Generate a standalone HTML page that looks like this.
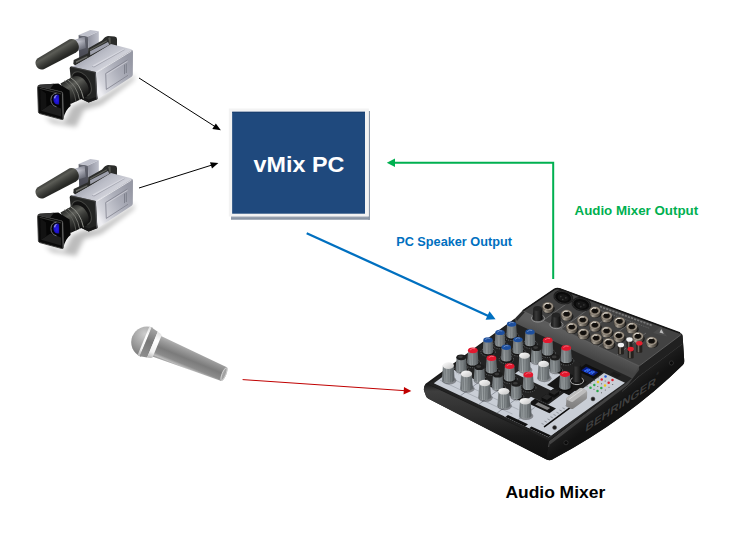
<!DOCTYPE html>
<html><head><meta charset="utf-8"><title>vMix Audio Mixer Diagram</title>
<style>
html,body{margin:0;padding:0;background:#fff;overflow:hidden}
svg{display:block}
text{font-family:"Liberation Sans",sans-serif;font-weight:bold}
</style></head><body>
<svg width="750" height="543" viewBox="0 0 750 543">
<defs>
<filter id="bs" x="-10%" y="-10%" width="130%" height="130%"><feGaussianBlur stdDeviation="1.2"/></filter>
<filter id="b3" x="-20%" y="-20%" width="140%" height="140%"><feGaussianBlur stdDeviation="2.5"/></filter>
<linearGradient id="gFoam" gradientUnits="userSpaceOnUse" x1="53" y1="48.5" x2="59.5" y2="59.3">
<stop offset="0" stop-color="#3c3d39"/><stop offset=".3" stop-color="#5b5c56"/><stop offset=".7" stop-color="#3a3b37"/><stop offset="1" stop-color="#272825"/></linearGradient>
<linearGradient id="gTube" gradientUnits="userSpaceOnUse" x1="79" y1="38" x2="81" y2="50">
<stop offset="0" stop-color="#a8aab5"/><stop offset=".3" stop-color="#d2d3dc"/><stop offset=".7" stop-color="#9698a3"/><stop offset="1" stop-color="#6c6e79"/></linearGradient>
<linearGradient id="gTubeSh" gradientUnits="userSpaceOnUse" x1="76" y1="44" x2="86" y2="42"><stop offset="0" stop-color="#50525e" stop-opacity="0"/><stop offset="1" stop-color="#50525e" stop-opacity=".45"/></linearGradient>
<linearGradient id="gHF" x1="0" y1="0" x2="0" y2="1"><stop offset="0" stop-color="#666873"/><stop offset="1" stop-color="#45464f"/></linearGradient>
<linearGradient id="gHS" x1="0" y1="0" x2="1" y2="0"><stop offset="0" stop-color="#90929e"/><stop offset="1" stop-color="#bdbfca"/></linearGradient>
<linearGradient id="gTop" gradientUnits="userSpaceOnUse" x1="90" y1="50" x2="104" y2="70">
<stop offset="0" stop-color="#a1a3af"/><stop offset=".45" stop-color="#bcbec8"/><stop offset="1" stop-color="#d3d4dc"/></linearGradient>
<linearGradient id="gSide" gradientUnits="userSpaceOnUse" x1="96" y1="85" x2="132" y2="63">
<stop offset="0" stop-color="#eeeef2"/><stop offset=".15" stop-color="#d4d5dc"/><stop offset=".6" stop-color="#adafba"/><stop offset="1" stop-color="#9799a5"/></linearGradient>
<linearGradient id="gBarrel" gradientUnits="userSpaceOnUse" x1="67" y1="80" x2="79" y2="100">
<stop offset="0" stop-color="#2a2b29"/><stop offset=".3" stop-color="#5b5c57"/><stop offset=".55" stop-color="#3a3b38"/><stop offset="1" stop-color="#101010"/></linearGradient>
<linearGradient id="gHoodTop" gradientUnits="userSpaceOnUse" x1="38" y1="86" x2="64" y2="86">
<stop offset="0" stop-color="#3e3e3d"/><stop offset="1" stop-color="#0a0a0a"/></linearGradient>
<radialGradient id="gGlass" cx=".6" cy=".55" r=".7"><stop offset="0" stop-color="#2a1cf0"/><stop offset=".6" stop-color="#1a10c0"/><stop offset="1" stop-color="#0a0860"/></radialGradient>

<g id="cam">
 <!-- ground shadow -->
 <g filter="url(#b3)" opacity=".26">
  <path d="M44,116 L64,122 L72,106 L84,101 L98,100 L132,77 L135,74 L134,80 L101,105 L84,110 L76,127 L52,123 Z" fill="#000"/>
 </g>
 <!-- mic holder box -->
 <path d="M78.6,34.9 L87.9,36.5 L88.6,54 L79.2,59 Z" fill="url(#gHF)"/>
 <path d="M87.9,36.5 L98.8,31.3 L98.8,43 L88.4,50 Z" fill="url(#gHS)"/>
 <path d="M78.6,34.9 L90.3,29.9 L98.8,31.3 L87.9,36.5 Z" fill="#bfc1cc"/>
 <!-- mic tube -->
 <path d="M72,40.5 L84.6,36.8 L85.6,48 L77,51 Z" fill="url(#gTube)"/>
 <path d="M72,40.5 L84.6,36.8 L85.6,48 L77,51 Z" fill="url(#gTubeSh)"/>
 <!-- foam -->
 <path d="M37.4,58.6 L69.6,39.3 A7.6,7.6 0 0 1 76,52.6 L43.8,69.2 A6.4,6.4 0 0 1 37.4,58.6 Z" fill="url(#gFoam)"/>
 <!-- handle (dark rail) -->
 <path d="M73.7,60 L88,53.3 L88.3,48.3 L102,40.6 Q105,36.4 108,36 L114.5,36.4 Q117,36.6 117,39 L117,46.5 L109.3,46 L90.3,57 L75.3,65.6 L73.3,64 Z" fill="#2b2c2a"/>
 <path d="M90,51.3 L108,42 L109.3,44.7 L90.3,55.3 Z" fill="#9d9fab"/>
 <path d="M89.6,49.6 L106.6,40.2 L107,41.2 L89.9,50.7 Z" fill="#5e5f59"/>
 <path d="M75.7,61.6 L87.2,56 L87.5,57.3 L76.2,63 Z" fill="#6a6b66"/>
 <path d="M108.2,38 Q110,36.6 110.6,38 L110.8,43.4 L109.6,44 Z" fill="#54554f"/>
 <!-- body top -->
 <path d="M70.8,66.9 L95.9,71.9 L131,50.4 Q132.6,49.6 131.4,49.2 L111,44 L89.3,57.3 L75.3,65.3 Z" fill="url(#gTop)"/>
 <path d="M92.1,65.8 L123.2,48.9 L124.4,49.5 L93.8,66.8 Z" fill="#d6d7df"/>
 <path d="M93.8,66.8 L124.4,49.5 L124.6,50.1 L94,67.6 L92.1,66.6 L92.1,65.8 Z" fill="#8e909b" opacity=".7"/>
 <!-- body side -->
 <path d="M95.9,71.9 L131,50.4 Q133,49.4 133,52 L132.8,74.6 Q132.8,76 131.6,76.8 L97.4,99.2 Z" fill="url(#gSide)"/>
 <path d="M96.6,72.4 L131.4,51.1" stroke="#f4f4f7" stroke-width=".9" opacity=".8"/>
 <path d="M127.5,59.9 L105.7,73.5 L106.3,89.4 L128,75.3" fill="none" stroke="#80828e" stroke-width=".8"/>
 <path d="M106.6,74.4 L127.6,61.2" fill="none" stroke="#dcdce3" stroke-width=".6"/>
 <path d="M124.5,64.6 L124.5,74.1 M126.3,63.6 L126.3,73" stroke="#6f717d" stroke-width=".7"/>
 <!-- body front (dark) -->
 <path d="M71.4,66.6 L95.9,71.9 L97.4,99.2 L88.7,102.6 L80.6,98.8 L73,92 Q70.5,80 69.7,68.4 Q69.7,66.3 71.4,66.6 Z" fill="#232423"/>
 <path d="M80.6,98.4 L88.7,102.4 L97.4,99 L97.3,96.4 L88.7,99.6 L81,95.8 Z" fill="#161616"/>
 <path d="M95.3,72.4 L96.8,98.8" stroke="#55565a" stroke-width="1"/>
 <path d="M71,67 L95.5,72.4" stroke="#4a4b4a" stroke-width=".7"/>
 <!-- lens mount ring -->
 <g transform="translate(81.5,83.8) rotate(58)">
  <ellipse rx="13.8" ry="8.8" fill="#454643"/>
  <ellipse rx="12.6" ry="7.8" fill="#121212"/>
 </g>
 <!-- barrel -->
 <path d="M72.7,76.7 L60.5,83.4 L70.5,104 L87,96.6 Q91.5,88 84.5,80 Q79,74.5 72.7,76.7 Z" fill="url(#gBarrel)"/>
 <g fill="none" stroke-linecap="round">
  <path d="M70.5,77.6 Q80.5,83.5 83.4,98" stroke="#90918b" stroke-width="1"/>
  <path d="M67.3,79.5 Q77,85.8 79.6,99.8" stroke="#7d7e78" stroke-width=".9"/>
  <path d="M64.6,81 Q74,87.5 76,101.4" stroke="#62635e" stroke-width=".8"/>
 </g>
 <!-- hood top + side -->
 <path d="M37.6,86.1 L39.6,84.7 L58.3,83.5 L69.6,90.5 L70.6,106 Q65,110 63.1,119.7 L62.3,92.1 Z" fill="#090909"/>
 <path d="M37.6,86.1 L39.6,84.7 L54,83.8 L50,89 Z" fill="#343434"/>
 <!-- hood frame -->
 <path d="M37.6,87.4 Q37.5,85.9 39,86.4 L61.2,91.8 Q62.3,92.1 62.4,93.3 L63.1,118.4 Q63.2,120 61.8,119.5 L39.8,113.6 Q38.5,113.2 38.4,111.8 Z" fill="#0b0b0b" stroke="#3c3c3b" stroke-width=".9"/>
 <path d="M40.3,89.3 L60.5,94.6 L61,116.6 L40.8,110.8 Z" fill="#060606"/>
 <path d="M40.8,110.8 L50.5,104.6 L61,108.6 L61,116.6 Z" fill="#1f1f1f"/>
 <path d="M40.3,89.3 L46,93.4 L46.5,107 L40.8,110.8 Z" fill="#121212"/>
 <path d="M62.7,93.4 L63.3,119" stroke="#7e7f80" stroke-width=".7"/>
 <path d="M39.6,88.3 L61,93.9" stroke="#4c4c4b" stroke-width=".7"/>
 <!-- lens glass -->
 <path d="M56.5,93.2 Q51.2,93.6 50.9,99.6 Q51,105.4 56.5,106.8" fill="none" stroke="#77787b" stroke-width=".9"/>
 <path d="M59.2,94.8 L59.2,104.4 Q54.5,105.4 53.2,100 Q53,95 56.2,94.4 Z" fill="url(#gGlass)"/>
 <path d="M53.8,97.4 Q54.6,94.8 57.6,94.8 Q55.6,96 55,99 Z" fill="#a9a9f0" opacity=".8"/>
</g>

</defs>
<rect width="750" height="543" fill="#fff"/>
<!-- vMix box -->
<linearGradient id="gSh" x1="0" y1="0" x2="0" y2="1"><stop offset="0" stop-color="#a4adba"/><stop offset="1" stop-color="#7f8b9c"/></linearGradient>
<rect x="231" y="216" width="139" height="3.7" fill="url(#gSh)"/>
<rect x="368" y="111" width="2" height="108.7" fill="#8c97a7"/>
<rect x="228.8" y="108.5" width="140.1" height="108" fill="#f3f3f3"/>
<rect x="232.15" y="111.8" width="132.85" height="101.9" fill="#1f497d"/>
<rect x="232.15" y="111.8" width="132.85" height="1" fill="#1a3f6e"/>
<text x="253.6" y="172" font-size="22.3" fill="#fff" textLength="90.7" lengthAdjust="spacingAndGlyphs">vMix PC</text>
<!-- arrows -->
<g stroke="#000" stroke-width="1" fill="#000">
<line x1="139" y1="78" x2="216" y2="127.2"/>
<polygon points="220.9,130.3 212.3,129 215.8,123.5" stroke="none"/>
<line x1="139" y1="188" x2="213" y2="164.7"/>
<polygon points="218.4,163 212,168.5 210,162.2" stroke="none"/>
</g>
<g stroke="#00b050" stroke-width="2" fill="none">
<polyline points="392,162.7 553.2,162.7 553.2,279"/>
<polygon points="386.8,162.7 395,158.5 395,166.9" fill="#00b050" stroke="none"/>
</g>
<g stroke="#0070c0" stroke-width="2.3">
<line x1="306.7" y1="233.2" x2="490" y2="316.7"/>
<polygon points="495.6,319.2 485.6,319.8 489.5,311.2" fill="#0070c0" stroke="none"/>
</g>
<g stroke="#c00000" stroke-width="1">
<line x1="242.6" y1="379.6" x2="405" y2="390.7"/>
<polygon points="411.3,391.1 403.5,394.5 404,387" fill="#c00000" stroke="none"/>
</g>
<text x="396.2" y="246" font-size="13.1" fill="#0070c0" textLength="115.8" lengthAdjust="spacingAndGlyphs">PC Speaker Output</text>
<text x="574.5" y="214.5" font-size="13.1" fill="#00b050" textLength="123.7" lengthAdjust="spacingAndGlyphs">Audio Mixer Output</text>
<text x="505.4" y="497.7" font-size="16.3" fill="#000" textLength="99.8" lengthAdjust="spacingAndGlyphs">Audio Mixer</text>
<use href="#cam"/>
<use href="#cam" transform="translate(0,129)"/>
<g transform="translate(146.9,342.3) rotate(22.4)">
 <linearGradient id="gMicH" x1="0" y1="0" x2="0" y2="1"><stop offset="0" stop-color="#b4b4b4"/><stop offset=".18" stop-color="#9c9c9c"/><stop offset=".5" stop-color="#7b7b7b"/><stop offset=".78" stop-color="#8c8c8c"/><stop offset=".9" stop-color="#bcbcbc"/><stop offset="1" stop-color="#8a8a8a"/></linearGradient>
 <radialGradient id="gBall" gradientUnits="userSpaceOnUse" cx="-5" cy="-7" r="20"><stop offset="0" stop-color="#cdcdcd"/><stop offset=".6" stop-color="#a2a2a2"/><stop offset="1" stop-color="#848484"/></radialGradient>
 <linearGradient id="gRing" x1="0" y1="0" x2="0" y2="1"><stop offset="0" stop-color="#e0e0e0"/><stop offset=".3" stop-color="#ffffff"/><stop offset=".75" stop-color="#f2f2f2"/><stop offset="1" stop-color="#b4b4b4"/></linearGradient>
 <linearGradient id="gBand" x1="0" y1="0" x2="0" y2="1"><stop offset="0" stop-color="#a6a6a6"/><stop offset=".45" stop-color="#787878"/><stop offset="1" stop-color="#8e8e8e"/></linearGradient>
 <path d="M9,-11.2 L83.4,-7.5 A2.2,7.5 0 0 1 83.4,7.5 L9,11.2 Z" fill="url(#gMicH)"/>
 <ellipse cx="83.4" cy="0" rx="1.9" ry="6.8" fill="#a2a2a2" stroke="#dcdcdc" stroke-width=".8"/>
 <path d="M0,-15.7 A15.7,15.7 0 0 0 0,15.7 Z" fill="url(#gBall)"/>
 <path d="M-3.7,-15.25 L-1.3,-15.6 L-1.3,15.6 L-3.7,15.25 Z" fill="url(#gRing)"/>
 <path d="M-1.3,-15.6 L6,-13.9 L6,13.9 L-1.3,15.6 Z" fill="url(#gBand)"/>
 <path d="M6,-13.9 Q8.5,-13.6 11,-12.2 L11,12.2 Q8.5,13.6 6,13.9 Z" fill="url(#gRing)"/>
</g>
<g id="mixer">
<defs>
<linearGradient id="mFront" x1="0" y1="0" x2="0" y2="1"><stop offset="0" stop-color="#161616"/><stop offset=".1" stop-color="#3e3e3e"/><stop offset=".42" stop-color="#2e2e2e"/><stop offset=".7" stop-color="#181818"/><stop offset="1" stop-color="#0f0f0f"/></linearGradient>
<linearGradient id="mRight" gradientUnits="userSpaceOnUse" x1="600" y1="395" x2="612" y2="411"><stop offset="0" stop-color="#3a3a3a"/><stop offset=".25" stop-color="#202020"/><stop offset="1" stop-color="#121212"/></linearGradient>
<linearGradient id="mSlope" gradientUnits="userSpaceOnUse" x1="570" y1="335" x2="565" y2="349"><stop offset="0" stop-color="#5c5c5c"/><stop offset="1" stop-color="#444444"/></linearGradient>
<linearGradient id="mKnob" x1="0" y1="0" x2="1" y2="0"><stop offset="0" stop-color="#73797c"/><stop offset=".3" stop-color="#a2a8aa"/><stop offset=".65" stop-color="#888e90"/><stop offset="1" stop-color="#5e6366"/></linearGradient>
<linearGradient id="mKnobK" x1="0" y1="0" x2="1" y2="0"><stop offset="0" stop-color="#151515"/><stop offset=".35" stop-color="#3a3a3a"/><stop offset="1" stop-color="#0a0a0a"/></linearGradient>
<linearGradient id="mCapW" x1="0" y1="0" x2="1" y2="1"><stop offset="0" stop-color="#ffffff"/><stop offset="1" stop-color="#c4c4c4"/></linearGradient>
<radialGradient id="mJack" cx=".5" cy=".52" r=".5"><stop offset="0" stop-color="#0c0c0c"/><stop offset=".5" stop-color="#17130f"/><stop offset=".6" stop-color="#5e564c"/><stop offset=".8" stop-color="#a49b8e"/><stop offset="1" stop-color="#6a6258"/></radialGradient>
<linearGradient id="mJackS" x1="0" y1="0" x2="1" y2="0"><stop offset="0" stop-color="#4e4840"/><stop offset=".3" stop-color="#a8a094"/><stop offset=".6" stop-color="#6c655b"/><stop offset="1" stop-color="#38332d"/></linearGradient>
<linearGradient id="mFader" x1="0" y1="0" x2="0" y2="1"><stop offset="0" stop-color="#b0b0b0"/><stop offset=".45" stop-color="#929292"/><stop offset="1" stop-color="#7c7c7c"/></linearGradient>
</defs>
<path d="M426,383.5 Q423.3,386.5 424,390.5 L426,396 Q426.5,397.8 428.5,398.8 L546.5,459.5 Q550.5,461.5 554,458.6 Q628,419 683,364.8 Q684.6,363 684.2,360 L682.6,336 Q682.5,333.6 680,332.7 L560,288.4 Q557,287.3 554.3,289 L523,310.3 L515.5,318 Z" fill="#1a1a1a"/>
<path d="M426,383.5 Q423.3,386.5 424,390.5 L426,396 Q426.5,397.8 428.5,398.8 L546.5,459.5 L549.5,441.6 Z" fill="url(#mFront)"/>
<path d="M549.5,441.6 L626.5,382.7 L638.9,366 L681.8,334 Q682.5,334.5 682.6,336 L684.2,360 Q684.6,363 683,364.8 Q628,419 554,458.6 Q550.5,461.5 546.5,459.5 Z" fill="url(#mRight)"/>
<path d="M548.6,447 L549.5,441.6 L626.5,382.7 L638.9,366" fill="none" stroke="#4a4a4a" stroke-width="1"/>
<path d="M549.5,441.6 L626.5,382.7 L638.9,366 L640,368.5 L628,384.8 L550,444.4 Z" fill="#474747" opacity=".9"/>
<path d="M622,391.5 Q634,381 639.5,375.8 L682,344" fill="none" stroke="#3c3c3c" stroke-width="1"/>
<path d="M638.9,366 L681.8,334 L682.6,343.5 L639.6,375.6 Z" fill="#202020"/>
<circle cx="566.0" cy="442.7" r="2.1" fill="#0a0a0a" stroke="#3a3a3a" stroke-width=".7"/>
<circle cx="671.4" cy="363.0" r="2.1" fill="#0a0a0a" stroke="#3a3a3a" stroke-width=".7"/>
<circle cx="433.5" cy="391" r="0" fill="none"/>
<text transform="matrix(0.829,-0.560,-0.135,0.99,584.9,432.3)" font-size="11.7" fill="#3f3f3f" stroke="#0d0d0d" stroke-width=".45" paint-order="stroke" textLength="85" lengthAdjust="spacingAndGlyphs">BEHRINGER</text>
<text transform="matrix(0.829,-0.560,-0.135,0.99,656.2,375.6)" font-size="4" fill="#3a3a3a">®</text>
<polygon points="428.3,384.1 549.1,440.4 626.0,383.2 632.0,378.0 515.5,323.0 515.5,318.5" fill="#222222"/>
<polygon points="433.8,383.3 548.7,437.3 568.0,423.0 452.7,369.3" fill="#c9ced6"/>
<polygon points="515.0,373.6 551.0,390.4 568.0,377.8 532.0,361.0" fill="#c9ced6"/>
<polygon points="504.2,416.6 548.7,437.3 625.0,382.7 604.0,372.9 578.0,392.1 570.0,388.4 548.0,404.7 531.0,396.8" fill="#c9ced6"/>
<line x1="460.1" y1="396.0" x2="479.4" y2="381.7" stroke="#6a6f78" stroke-width=".6"/>
<line x1="478.5" y1="404.6" x2="497.8" y2="390.3" stroke="#6a6f78" stroke-width=".6"/>
<line x1="496.9" y1="413.2" x2="516.2" y2="398.9" stroke="#6a6f78" stroke-width=".6"/>
<line x1="515.3" y1="421.8" x2="534.6" y2="407.5" stroke="#6a6f78" stroke-width=".6"/>
<line x1="440.0" y1="380.3" x2="512.5" y2="414.1" stroke="#8a9099" stroke-width=".5"/>
<line x1="446.0" y1="375.8" x2="518.5" y2="409.6" stroke="#8a9099" stroke-width=".5"/>
<polygon points="505.2,417.0 525.2,426.4 528.0,424.3 508.0,415.0" fill="#111"/>
<polygon points="529.2,428.2 548.7,437.3 551.0,435.6 531.5,426.5" fill="#111"/>
<polygon points="515.5,318.2 522.8,310.8 639.2,366.0 632.0,378.2 515.5,323.2" fill="url(#mSlope)"/>
<polygon points="515.5,318.2 522.8,310.8 525.0,312.0 517.0,321.0" fill="#2a2a2a"/>
<path d="M522.8,310.8 L554.3,289.4 Q557,287.8 560,288.9 L680,333 Q682,333.8 680.8,334.9 L639.2,366 Z" fill="#424242"/>
<path d="M522.8,310.8 L554.3,289.4 Q557,287.8 560,288.9 L680,333" fill="none" stroke="#151515" stroke-width="1.6"/>
<path d="M523.5,311.2 L639.2,366 L680.8,334.9" fill="none" stroke="#6a6a6a" stroke-width=".7"/>
<line x1="543.0" y1="320.5" x2="572.0" y2="300.0" stroke="#8a8a8a" stroke-width=".5"/>
<line x1="561.0" y1="329.0" x2="590.0" y2="308.0" stroke="#8a8a8a" stroke-width=".5"/>
<line x1="580.0" y1="338.0" x2="608.0" y2="317.0" stroke="#8a8a8a" stroke-width=".5"/>
<line x1="598.0" y1="346.5" x2="627.0" y2="325.5" stroke="#8a8a8a" stroke-width=".5"/>
<line x1="617.0" y1="355.0" x2="646.0" y2="333.0" stroke="#8a8a8a" stroke-width=".5"/>
<path d="M600,306.5 L652,325.5" stroke="#8c8c8c" stroke-width="1.6" stroke-dasharray="2.2,1.1" opacity=".75"/>
<path d="M598,309.5 L650,328.5" stroke="#777" stroke-width=".8" stroke-dasharray="1.4,1" opacity=".7"/>
<path d="M653,333 L661,326.5 L667,336.5 Z" fill="#4c4c4c"/><path d="M659.5,332.5 L661.3,329 L663.8,333.8 Z" fill="#bdbdbd"/>
<g transform="rotate(14 563.3 297.2)">
<ellipse cx="563.3" cy="297.2" rx="10" ry="7" fill="#1d1d1d"/>
<ellipse cx="563.3" cy="297.4" rx="8.6" ry="5.8" fill="#0b0b0b" stroke="#2c2c2c" stroke-width=".8"/>
<ellipse cx="563.3" cy="297.8" rx="5.6" ry="3.6" fill="#161616"/>
<circle cx="560.7" cy="297.2" r=".8" fill="#3a3a3a"/>
<circle cx="565.9" cy="297.2" r=".8" fill="#3a3a3a"/>
<circle cx="563.3" cy="299.6" r=".8" fill="#3a3a3a"/>
</g>
<g transform="rotate(14 581.4 304.3)">
<ellipse cx="581.4" cy="304.3" rx="10" ry="7" fill="#1d1d1d"/>
<ellipse cx="581.4" cy="304.5" rx="8.6" ry="5.8" fill="#0b0b0b" stroke="#2c2c2c" stroke-width=".8"/>
<ellipse cx="581.4" cy="304.9" rx="5.6" ry="3.6" fill="#161616"/>
<circle cx="578.8" cy="304.3" r=".8" fill="#3a3a3a"/>
<circle cx="584.0" cy="304.3" r=".8" fill="#3a3a3a"/>
<circle cx="581.4" cy="306.7" r=".8" fill="#3a3a3a"/>
</g>
<ellipse cx="548.5" cy="308.8" rx="6.3" ry="4.6" fill="#121212" opacity=".8"/>
<path d="M542.3,306.2 l0,2.6 a5.6,4.2 0 0 0 11.2,0 l0,-2.6 Z" fill="url(#mJackS)"/>
<ellipse cx="547.9" cy="306.2" rx="5.6" ry="4.2" fill="url(#mJack)"/>
<path d="M544.0,305.3 q1.8,-2.8 5,-1.6" fill="none" stroke="#f2eee6" stroke-width="1" opacity=".85"/>
<ellipse cx="595.5" cy="313.3" rx="6.3" ry="4.6" fill="#121212" opacity=".8"/>
<path d="M589.3,310.7 l0,2.6 a5.6,4.2 0 0 0 11.2,0 l0,-2.6 Z" fill="url(#mJackS)"/>
<ellipse cx="594.9" cy="310.7" rx="5.6" ry="4.2" fill="url(#mJack)"/>
<path d="M591.0,309.8 q1.8,-2.8 5,-1.6" fill="none" stroke="#f2eee6" stroke-width="1" opacity=".85"/>
<ellipse cx="567.2" cy="316.5" rx="6.3" ry="4.6" fill="#121212" opacity=".8"/>
<path d="M561.0,313.9 l0,2.6 a5.6,4.2 0 0 0 11.2,0 l0,-2.6 Z" fill="url(#mJackS)"/>
<ellipse cx="566.6" cy="313.9" rx="5.6" ry="4.2" fill="url(#mJack)"/>
<path d="M562.7,313.0 q1.8,-2.8 5,-1.6" fill="none" stroke="#f2eee6" stroke-width="1" opacity=".85"/>
<ellipse cx="607.2" cy="318.3" rx="6.3" ry="4.6" fill="#121212" opacity=".8"/>
<path d="M601.0,315.7 l0,2.6 a5.6,4.2 0 0 0 11.2,0 l0,-2.6 Z" fill="url(#mJackS)"/>
<ellipse cx="606.6" cy="315.7" rx="5.6" ry="4.2" fill="url(#mJack)"/>
<path d="M602.7,314.8 q1.8,-2.8 5,-1.6" fill="none" stroke="#f2eee6" stroke-width="1" opacity=".85"/>
<ellipse cx="583.3" cy="322.3" rx="6.3" ry="4.6" fill="#121212" opacity=".8"/>
<path d="M577.1,319.7 l0,2.6 a5.6,4.2 0 0 0 11.2,0 l0,-2.6 Z" fill="url(#mJackS)"/>
<ellipse cx="582.7" cy="319.7" rx="5.6" ry="4.2" fill="url(#mJack)"/>
<path d="M578.8,318.8 q1.8,-2.8 5,-1.6" fill="none" stroke="#f2eee6" stroke-width="1" opacity=".85"/>
<ellipse cx="620.1" cy="323.7" rx="6.3" ry="4.6" fill="#121212" opacity=".8"/>
<path d="M613.9,321.1 l0,2.6 a5.6,4.2 0 0 0 11.2,0 l0,-2.6 Z" fill="url(#mJackS)"/>
<ellipse cx="619.5" cy="321.1" rx="5.6" ry="4.2" fill="url(#mJack)"/>
<path d="M615.6,320.2 q1.8,-2.8 5,-1.6" fill="none" stroke="#f2eee6" stroke-width="1" opacity=".85"/>
<ellipse cx="595.5" cy="327.5" rx="6.3" ry="4.6" fill="#121212" opacity=".8"/>
<path d="M589.3,324.9 l0,2.6 a5.6,4.2 0 0 0 11.2,0 l0,-2.6 Z" fill="url(#mJackS)"/>
<ellipse cx="594.9" cy="324.9" rx="5.6" ry="4.2" fill="url(#mJack)"/>
<path d="M591.0,324.0 q1.8,-2.8 5,-1.6" fill="none" stroke="#f2eee6" stroke-width="1" opacity=".85"/>
<ellipse cx="632.4" cy="329.2" rx="6.3" ry="4.6" fill="#121212" opacity=".8"/>
<path d="M626.2,326.6 l0,2.6 a5.6,4.2 0 0 0 11.2,0 l0,-2.6 Z" fill="url(#mJackS)"/>
<ellipse cx="631.8" cy="326.6" rx="5.6" ry="4.2" fill="url(#mJack)"/>
<path d="M627.9,325.7 q1.8,-2.8 5,-1.6" fill="none" stroke="#f2eee6" stroke-width="1" opacity=".85"/>
<ellipse cx="572.3" cy="329.4" rx="6.3" ry="4.6" fill="#121212" opacity=".8"/>
<path d="M566.1,326.8 l0,2.6 a5.6,4.2 0 0 0 11.2,0 l0,-2.6 Z" fill="url(#mJackS)"/>
<ellipse cx="571.7" cy="326.8" rx="5.6" ry="4.2" fill="url(#mJack)"/>
<path d="M567.8,325.9 q1.8,-2.8 5,-1.6" fill="none" stroke="#f2eee6" stroke-width="1" opacity=".85"/>
<ellipse cx="607.2" cy="333.3" rx="6.3" ry="4.6" fill="#121212" opacity=".8"/>
<path d="M601.0,330.7 l0,2.6 a5.6,4.2 0 0 0 11.2,0 l0,-2.6 Z" fill="url(#mJackS)"/>
<ellipse cx="606.6" cy="330.7" rx="5.6" ry="4.2" fill="url(#mJack)"/>
<path d="M602.7,329.8 q1.8,-2.8 5,-1.6" fill="none" stroke="#f2eee6" stroke-width="1" opacity=".85"/>
<ellipse cx="583.9" cy="335.2" rx="6.3" ry="4.6" fill="#121212" opacity=".8"/>
<path d="M577.7,332.6 l0,2.6 a5.6,4.2 0 0 0 11.2,0 l0,-2.6 Z" fill="url(#mJackS)"/>
<ellipse cx="583.3" cy="332.6" rx="5.6" ry="4.2" fill="url(#mJack)"/>
<path d="M579.4,331.7 q1.8,-2.8 5,-1.6" fill="none" stroke="#f2eee6" stroke-width="1" opacity=".85"/>
<ellipse cx="619.5" cy="338.0" rx="6.3" ry="4.6" fill="#121212" opacity=".8"/>
<path d="M613.3,335.4 l0,2.6 a5.6,4.2 0 0 0 11.2,0 l0,-2.6 Z" fill="url(#mJackS)"/>
<ellipse cx="618.9" cy="335.4" rx="5.6" ry="4.2" fill="url(#mJack)"/>
<path d="M615.0,334.5 q1.8,-2.8 5,-1.6" fill="none" stroke="#f2eee6" stroke-width="1" opacity=".85"/>
<ellipse cx="638.5" cy="338.7" rx="6.3" ry="4.6" fill="#121212" opacity=".8"/>
<path d="M632.3,336.1 l0,2.6 a5.6,4.2 0 0 0 11.2,0 l0,-2.6 Z" fill="url(#mJackS)"/>
<ellipse cx="637.9" cy="336.1" rx="5.6" ry="4.2" fill="url(#mJack)"/>
<path d="M634.0,335.2 q1.8,-2.8 5,-1.6" fill="none" stroke="#f2eee6" stroke-width="1" opacity=".85"/>
<ellipse cx="596.8" cy="340.4" rx="6.3" ry="4.6" fill="#121212" opacity=".8"/>
<path d="M590.6,337.8 l0,2.6 a5.6,4.2 0 0 0 11.2,0 l0,-2.6 Z" fill="url(#mJackS)"/>
<ellipse cx="596.2" cy="337.8" rx="5.6" ry="4.2" fill="url(#mJack)"/>
<path d="M592.3,336.9 q1.8,-2.8 5,-1.6" fill="none" stroke="#f2eee6" stroke-width="1" opacity=".85"/>
<ellipse cx="652.2" cy="343.5" rx="6.3" ry="4.6" fill="#121212" opacity=".8"/>
<path d="M646.0,340.9 l0,2.6 a5.6,4.2 0 0 0 11.2,0 l0,-2.6 Z" fill="url(#mJackS)"/>
<ellipse cx="651.6" cy="340.9" rx="5.6" ry="4.2" fill="url(#mJack)"/>
<path d="M647.7,340.0 q1.8,-2.8 5,-1.6" fill="none" stroke="#f2eee6" stroke-width="1" opacity=".85"/>
<ellipse cx="609.2" cy="344.9" rx="6.3" ry="4.6" fill="#121212" opacity=".8"/>
<path d="M603.0,342.3 l0,2.6 a5.6,4.2 0 0 0 11.2,0 l0,-2.6 Z" fill="url(#mJackS)"/>
<ellipse cx="608.6" cy="342.3" rx="5.6" ry="4.2" fill="url(#mJack)"/>
<path d="M604.7,341.4 q1.8,-2.8 5,-1.6" fill="none" stroke="#f2eee6" stroke-width="1" opacity=".85"/>
<rect x="626.5" y="339.5" width="6" height="9.4" rx="1.2" fill="#24211e"/>
<rect x="627.9" y="340.5" width="1.6" height="8" fill="#6e675d"/>
<ellipse cx="629.5" cy="339.5" rx="3.2" ry="2.3" fill="#f2f2f2"/>
<rect x="636.3" y="343.3" width="6" height="9.4" rx="1.2" fill="#24211e"/>
<rect x="637.7" y="344.3" width="1.6" height="8" fill="#6e675d"/>
<ellipse cx="639.3" cy="343.3" rx="3.2" ry="2.3" fill="#e6202e"/>
<rect x="617.9" y="345.0" width="6" height="9.4" rx="1.2" fill="#24211e"/>
<rect x="619.3" y="346.0" width="1.6" height="8" fill="#6e675d"/>
<ellipse cx="620.9" cy="345.0" rx="3.2" ry="2.3" fill="#f2f2f2"/>
<rect x="627.7" y="349.1" width="6" height="9.4" rx="1.2" fill="#24211e"/>
<rect x="629.1" y="350.1" width="1.6" height="8" fill="#6e675d"/>
<ellipse cx="630.7" cy="349.1" rx="3.2" ry="2.3" fill="#e6202e"/>
<ellipse cx="538.0" cy="318.2" rx="6.6" ry="3.9" fill="none" stroke="#a4a4a4" stroke-width=".7"/>
<path d="M533.4,308.6 L532.6,318.2 A5,2.8 0 0 0 542.6,318.2 L541.8,308.6 Z" fill="url(#mKnobK)"/>
<ellipse cx="537.6" cy="308.6" rx="4.2" ry="2.5" fill="#242424"/>
<ellipse cx="556.4" cy="324.7" rx="6.6" ry="3.9" fill="none" stroke="#a4a4a4" stroke-width=".7"/>
<path d="M551.8,315.1 L551.0,324.7 A5,2.8 0 0 0 561.0,324.7 L560.2,315.1 Z" fill="url(#mKnobK)"/>
<ellipse cx="556.0" cy="315.1" rx="4.2" ry="2.5" fill="#242424"/>
<ellipse cx="461.2" cy="370.3" rx="7.6" ry="4.4" fill="none" stroke="#a8adb3" stroke-width=".7" stroke-dasharray="1,1.3" opacity=".65"/>
<ellipse cx="472.8" cy="363.3" rx="7.6" ry="4.4" fill="none" stroke="#a8adb3" stroke-width=".7" stroke-dasharray="1,1.3" opacity=".65"/>
<ellipse cx="488.0" cy="352.1" rx="7.2" ry="4.2" fill="none" stroke="#a8adb3" stroke-width=".7" stroke-dasharray="1,1.3" opacity=".65"/>
<ellipse cx="500.0" cy="344.6" rx="7.2" ry="4.2" fill="none" stroke="#a8adb3" stroke-width=".7" stroke-dasharray="1,1.3" opacity=".65"/>
<ellipse cx="511.6" cy="336.3" rx="7.2" ry="4.2" fill="none" stroke="#a8adb3" stroke-width=".7" stroke-dasharray="1,1.3" opacity=".65"/>
<ellipse cx="479.4" cy="380.2" rx="7.6" ry="4.4" fill="none" stroke="#a8adb3" stroke-width=".7" stroke-dasharray="1,1.3" opacity=".65"/>
<ellipse cx="491.4" cy="371.1" rx="7.6" ry="4.4" fill="none" stroke="#a8adb3" stroke-width=".7" stroke-dasharray="1,1.3" opacity=".65"/>
<ellipse cx="506.3" cy="359.5" rx="7.2" ry="4.2" fill="none" stroke="#a8adb3" stroke-width=".7" stroke-dasharray="1,1.3" opacity=".65"/>
<ellipse cx="517.9" cy="351.8" rx="7.2" ry="4.2" fill="none" stroke="#a8adb3" stroke-width=".7" stroke-dasharray="1,1.3" opacity=".65"/>
<ellipse cx="530.0" cy="344.1" rx="7.2" ry="4.2" fill="none" stroke="#a8adb3" stroke-width=".7" stroke-dasharray="1,1.3" opacity=".65"/>
<ellipse cx="497.7" cy="387.7" rx="7.6" ry="4.4" fill="none" stroke="#a8adb3" stroke-width=".7" stroke-dasharray="1,1.3" opacity=".65"/>
<ellipse cx="509.6" cy="379.1" rx="7.6" ry="4.4" fill="none" stroke="#a8adb3" stroke-width=".7" stroke-dasharray="1,1.3" opacity=".65"/>
<ellipse cx="536.4" cy="361.2" rx="7.6" ry="4.4" fill="none" stroke="#a8adb3" stroke-width=".7" stroke-dasharray="1,1.3" opacity=".65"/>
<ellipse cx="547.7" cy="353.2" rx="7.6" ry="4.4" fill="none" stroke="#a8adb3" stroke-width=".7" stroke-dasharray="1,1.3" opacity=".65"/>
<ellipse cx="516.2" cy="396.8" rx="7.6" ry="4.4" fill="none" stroke="#a8adb3" stroke-width=".7" stroke-dasharray="1,1.3" opacity=".65"/>
<ellipse cx="528.3" cy="387.7" rx="7.6" ry="4.4" fill="none" stroke="#a8adb3" stroke-width=".7" stroke-dasharray="1,1.3" opacity=".65"/>
<ellipse cx="555.0" cy="370.5" rx="7.6" ry="4.4" fill="none" stroke="#a8adb3" stroke-width=".7" stroke-dasharray="1,1.3" opacity=".65"/>
<ellipse cx="566.2" cy="360.8" rx="7.6" ry="4.4" fill="none" stroke="#a8adb3" stroke-width=".7" stroke-dasharray="1,1.3" opacity=".65"/>
<ellipse cx="564.9" cy="387.3" rx="7.8" ry="4.6" fill="none" stroke="#a8adb3" stroke-width=".7" stroke-dasharray="1,1.3" opacity=".65"/>
<polygon points="576.7,370.7 593.9,378.7 603.1,371.8 585.9,363.8" fill="#0e0e0e"/>
<polygon points="581.2,370.5 593.2,376.0 598.2,372.3 586.2,366.8" fill="#0b1f86"/>
<text transform="matrix(0.906,0.422,-0.804,0.595,583.3,370.9)" font-size="7.4" fill="#3d7bff" textLength="9.6" lengthAdjust="spacingAndGlyphs" style="font-family:'Liberation Mono',monospace">88</text>
<polygon points="610.1,374.3 617.4,377.7 620.9,375.1 613.7,371.7" fill="#1a1a1a"/>
<circle cx="590.5" cy="387.7" r="1.25" fill="#2aa84a"/>
<circle cx="594.3" cy="384.9" r="1.25" fill="#2aa84a"/>
<circle cx="598.0" cy="382.1" r="1.25" fill="#e8c81e"/>
<circle cx="601.7" cy="379.4" r="1.25" fill="#e0202c"/>
<circle cx="605.5" cy="376.6" r="1.25" fill="#2a5ad0"/>
<circle cx="597.5" cy="391.0" r="1.25" fill="#2aa84a"/>
<circle cx="601.3" cy="388.1" r="1.25" fill="#2aa84a"/>
<circle cx="605.0" cy="385.4" r="1.25" fill="#e8c81e"/>
<circle cx="608.7" cy="382.7" r="1.25" fill="#e0202c"/>
<circle cx="612.5" cy="379.9" r="1.25" fill="#e0202c"/>
<circle cx="587.0" cy="386.1" r=".55" fill="#555"/>
<circle cx="590.8" cy="383.3" r=".55" fill="#555"/>
<circle cx="594.5" cy="380.5" r=".55" fill="#555"/>
<circle cx="598.2" cy="377.8" r=".55" fill="#555"/>
<circle cx="594.0" cy="389.3" r=".55" fill="#555"/>
<circle cx="597.8" cy="386.5" r=".55" fill="#555"/>
<circle cx="601.5" cy="383.8" r=".55" fill="#555"/>
<circle cx="605.2" cy="381.0" r=".55" fill="#555"/>
<circle cx="601.5" cy="392.8" r=".55" fill="#555"/>
<circle cx="605.3" cy="390.0" r=".55" fill="#555"/>
<circle cx="609.0" cy="387.3" r=".55" fill="#555"/>
<circle cx="612.7" cy="384.5" r=".55" fill="#555"/>
<polygon points="547.0,384.9 569.0,395.2 587.0,381.8 565.0,371.6" fill="#151515"/>
<polygon points="528.5,403.4 549.5,413.2 556.0,408.4 535.0,398.6" fill="#141414"/>
<polygon points="535.2,404.5 547.2,410.1 550.2,407.9 538.2,402.3" fill="#d8d8d8" opacity=".55"/>
<path d="M548.8,392.3 l4.8,-3.4 l5.4,2.5 l0,3 l-4.8,3.4 l-5.4,-2.5 Z" fill="#0e0e0e"/>
<path d="M548.8,392.3 l4.8,-3.4 l5.4,2.5 l-4.8,3.4 Z" fill="#262626"/>
<path d="M541.6,397.4 l4.8,-3.4 l5.4,2.5 l0,3 l-4.8,3.4 l-5.4,-2.5 Z" fill="#0e0e0e"/>
<path d="M541.6,397.4 l4.8,-3.4 l5.4,2.5 l-4.8,3.4 Z" fill="#262626"/>
<line x1="544.5" y1="426.6" x2="586.0" y2="395.8" stroke="#0c0c0c" stroke-width="1.5" stroke-linecap="round"/>
<line x1="541.5" y1="423.4" x2="543.8" y2="424.4" stroke="#4a4f57" stroke-width=".45"/>
<line x1="544.5" y1="421.1" x2="546.8" y2="422.2" stroke="#4a4f57" stroke-width=".45"/>
<line x1="547.5" y1="418.9" x2="549.8" y2="420.0" stroke="#4a4f57" stroke-width=".45"/>
<line x1="550.5" y1="416.7" x2="552.8" y2="417.8" stroke="#4a4f57" stroke-width=".45"/>
<line x1="553.5" y1="414.5" x2="555.8" y2="415.5" stroke="#4a4f57" stroke-width=".45"/>
<line x1="556.5" y1="412.3" x2="558.8" y2="413.3" stroke="#4a4f57" stroke-width=".45"/>
<line x1="559.5" y1="410.0" x2="561.8" y2="411.1" stroke="#4a4f57" stroke-width=".45"/>
<line x1="562.5" y1="407.8" x2="564.8" y2="408.9" stroke="#4a4f57" stroke-width=".45"/>
<line x1="565.5" y1="405.6" x2="567.8" y2="406.7" stroke="#4a4f57" stroke-width=".45"/>
<line x1="568.5" y1="403.4" x2="570.8" y2="404.4" stroke="#4a4f57" stroke-width=".45"/>
<line x1="571.5" y1="401.2" x2="573.8" y2="402.2" stroke="#4a4f57" stroke-width=".45"/>
<line x1="574.5" y1="398.9" x2="576.8" y2="400.0" stroke="#4a4f57" stroke-width=".45"/>
<line x1="577.5" y1="396.7" x2="579.8" y2="397.8" stroke="#4a4f57" stroke-width=".45"/>
<line x1="580.5" y1="394.5" x2="582.8" y2="395.6" stroke="#4a4f57" stroke-width=".45"/>
<circle cx="593.0" cy="398.9" r="2" fill="#1c1c1c" stroke="#555" stroke-width=".5"/>
<circle cx="554.6" cy="427.6" r="2" fill="#1c1c1c" stroke="#555" stroke-width=".5"/>
<path d="M566.5,398 L579.5,388.6 Q581,387.6 582.6,388.4 L586,390.2 Q587.3,391 587.2,392.5 L587,397.5 Q586.9,398.8 585.8,399.6 L573.5,408.6 Q572.2,409.5 570.8,408.8 L567.2,407 Q566,406.3 566,405 Z" fill="url(#mFader)"/>
<path d="M566.5,398 L579.5,388.6 Q581,387.6 582.6,388.4 L586,390.2 Q587.3,391 586,392 L573.2,401.4 Q571.8,402.3 570.4,401.6 L567,399.8 Q565.8,399 566.5,398 Z" fill="#bdbdbd"/>
<path d="M569,399.3 L582.6,389.5" stroke="#dedede" stroke-width=".8"/>
<ellipse cx="577" cy="380.8" rx="6.6" ry="3.8" fill="none" stroke="#b0b0b0" stroke-width="1"/>
<path d="M573.2,364.6 L572.6,380.2 A4.6,2.6 0 0 0 581.6,380.2 L581,364.6 A3.9,2.2 0 0 0 573.2,364.6 Z" fill="url(#mKnobK)"/>
<ellipse cx="577.1" cy="364.4" rx="3.9" ry="2.2" fill="#222"/>
<ellipse cx="512.4" cy="336.5" rx="6.2" ry="3.4" fill="#000" opacity=".35"/>
<path d="M507.1,324.1 L506.4,335.7 A5.2,2.7 0 0 0 516.8,335.7 L516.1,324.1 Z" fill="url(#mKnob)"/>
<line x1="508.1" y1="326.2" x2="507.5" y2="337.0" stroke="#454b4e" stroke-width=".55" opacity=".75"/>
<line x1="509.4" y1="326.2" x2="509.0" y2="337.7" stroke="#454b4e" stroke-width=".55" opacity=".75"/>
<line x1="510.7" y1="326.2" x2="510.6" y2="338.0" stroke="#454b4e" stroke-width=".55" opacity=".75"/>
<line x1="512.0" y1="326.2" x2="512.1" y2="338.0" stroke="#454b4e" stroke-width=".55" opacity=".75"/>
<line x1="513.3" y1="326.2" x2="513.6" y2="337.9" stroke="#454b4e" stroke-width=".55" opacity=".75"/>
<line x1="514.5" y1="326.2" x2="515.0" y2="337.4" stroke="#454b4e" stroke-width=".55" opacity=".75"/>
<line x1="515.4" y1="326.2" x2="516.1" y2="336.7" stroke="#454b4e" stroke-width=".55" opacity=".75"/>
<ellipse cx="511.6" cy="324.1" rx="4.7" ry="2.7" fill="#1d4f9e"/>
<path d="M508.9,323.8 q2.2,-2.4 4.9,-1.1" fill="none" stroke="#fff" stroke-width=".8" opacity=".45"/>
<ellipse cx="530.8" cy="344.3" rx="6.2" ry="3.4" fill="#000" opacity=".35"/>
<path d="M525.5,331.9 L524.8,343.5 A5.2,2.7 0 0 0 535.2,343.5 L534.5,331.9 Z" fill="url(#mKnob)"/>
<line x1="526.5" y1="334.0" x2="525.9" y2="344.8" stroke="#454b4e" stroke-width=".55" opacity=".75"/>
<line x1="527.8" y1="334.0" x2="527.4" y2="345.5" stroke="#454b4e" stroke-width=".55" opacity=".75"/>
<line x1="529.1" y1="334.0" x2="529.0" y2="345.8" stroke="#454b4e" stroke-width=".55" opacity=".75"/>
<line x1="530.4" y1="334.0" x2="530.5" y2="345.8" stroke="#454b4e" stroke-width=".55" opacity=".75"/>
<line x1="531.7" y1="334.0" x2="532.0" y2="345.7" stroke="#454b4e" stroke-width=".55" opacity=".75"/>
<line x1="532.9" y1="334.0" x2="533.4" y2="345.2" stroke="#454b4e" stroke-width=".55" opacity=".75"/>
<line x1="533.8" y1="334.0" x2="534.5" y2="344.5" stroke="#454b4e" stroke-width=".55" opacity=".75"/>
<ellipse cx="530.0" cy="331.9" rx="4.7" ry="2.7" fill="#1d4f9e"/>
<path d="M527.3,331.6 q2.2,-2.4 4.9,-1.1" fill="none" stroke="#fff" stroke-width=".8" opacity=".45"/>
<ellipse cx="500.8" cy="344.8" rx="6.2" ry="3.4" fill="#000" opacity=".35"/>
<path d="M495.5,332.4 L494.8,344.0 A5.2,2.7 0 0 0 505.2,344.0 L504.5,332.4 Z" fill="url(#mKnob)"/>
<line x1="496.5" y1="334.5" x2="495.9" y2="345.3" stroke="#454b4e" stroke-width=".55" opacity=".75"/>
<line x1="497.8" y1="334.5" x2="497.4" y2="346.0" stroke="#454b4e" stroke-width=".55" opacity=".75"/>
<line x1="499.1" y1="334.5" x2="499.0" y2="346.3" stroke="#454b4e" stroke-width=".55" opacity=".75"/>
<line x1="500.4" y1="334.5" x2="500.5" y2="346.3" stroke="#454b4e" stroke-width=".55" opacity=".75"/>
<line x1="501.7" y1="334.5" x2="502.0" y2="346.2" stroke="#454b4e" stroke-width=".55" opacity=".75"/>
<line x1="502.9" y1="334.5" x2="503.4" y2="345.7" stroke="#454b4e" stroke-width=".55" opacity=".75"/>
<line x1="503.8" y1="334.5" x2="504.5" y2="345.0" stroke="#454b4e" stroke-width=".55" opacity=".75"/>
<ellipse cx="500.0" cy="332.4" rx="4.7" ry="2.7" fill="#1d4f9e"/>
<path d="M497.3,332.1 q2.2,-2.4 4.9,-1.1" fill="none" stroke="#fff" stroke-width=".8" opacity=".45"/>
<ellipse cx="518.7" cy="352.0" rx="6.2" ry="3.4" fill="#000" opacity=".35"/>
<path d="M513.4,339.6 L512.7,351.2 A5.2,2.7 0 0 0 523.1,351.2 L522.4,339.6 Z" fill="url(#mKnob)"/>
<line x1="514.4" y1="341.7" x2="513.8" y2="352.5" stroke="#454b4e" stroke-width=".55" opacity=".75"/>
<line x1="515.7" y1="341.7" x2="515.3" y2="353.2" stroke="#454b4e" stroke-width=".55" opacity=".75"/>
<line x1="517.0" y1="341.7" x2="516.9" y2="353.5" stroke="#454b4e" stroke-width=".55" opacity=".75"/>
<line x1="518.3" y1="341.7" x2="518.4" y2="353.5" stroke="#454b4e" stroke-width=".55" opacity=".75"/>
<line x1="519.6" y1="341.7" x2="519.9" y2="353.4" stroke="#454b4e" stroke-width=".55" opacity=".75"/>
<line x1="520.8" y1="341.7" x2="521.3" y2="352.9" stroke="#454b4e" stroke-width=".55" opacity=".75"/>
<line x1="521.7" y1="341.7" x2="522.4" y2="352.2" stroke="#454b4e" stroke-width=".55" opacity=".75"/>
<ellipse cx="517.9" cy="339.6" rx="4.7" ry="2.7" fill="#1d4f9e"/>
<path d="M515.2,339.3 q2.2,-2.4 4.9,-1.1" fill="none" stroke="#fff" stroke-width=".8" opacity=".45"/>
<ellipse cx="488.8" cy="352.3" rx="6.2" ry="3.4" fill="#000" opacity=".35"/>
<path d="M483.5,339.9 L482.8,351.5 A5.2,2.7 0 0 0 493.2,351.5 L492.5,339.9 Z" fill="url(#mKnob)"/>
<line x1="484.5" y1="342.0" x2="483.9" y2="352.8" stroke="#454b4e" stroke-width=".55" opacity=".75"/>
<line x1="485.8" y1="342.0" x2="485.4" y2="353.5" stroke="#454b4e" stroke-width=".55" opacity=".75"/>
<line x1="487.1" y1="342.0" x2="487.0" y2="353.8" stroke="#454b4e" stroke-width=".55" opacity=".75"/>
<line x1="488.4" y1="342.0" x2="488.5" y2="353.8" stroke="#454b4e" stroke-width=".55" opacity=".75"/>
<line x1="489.7" y1="342.0" x2="490.0" y2="353.7" stroke="#454b4e" stroke-width=".55" opacity=".75"/>
<line x1="490.9" y1="342.0" x2="491.4" y2="353.2" stroke="#454b4e" stroke-width=".55" opacity=".75"/>
<line x1="491.8" y1="342.0" x2="492.5" y2="352.5" stroke="#454b4e" stroke-width=".55" opacity=".75"/>
<ellipse cx="488.0" cy="339.9" rx="4.7" ry="2.7" fill="#1d4f9e"/>
<path d="M485.3,339.6 q2.2,-2.4 4.9,-1.1" fill="none" stroke="#fff" stroke-width=".8" opacity=".45"/>
<ellipse cx="548.5" cy="353.4" rx="6.6" ry="3.6" fill="#000" opacity=".35"/>
<path d="M543.0,340.2 L542.1,352.6 A5.6,2.9 0 0 0 553.3,352.6 L552.4,340.2 Z" fill="url(#mKnob)"/>
<line x1="544.0" y1="342.5" x2="543.4" y2="354.0" stroke="#454b4e" stroke-width=".55" opacity=".75"/>
<line x1="545.3" y1="342.5" x2="544.9" y2="354.7" stroke="#454b4e" stroke-width=".55" opacity=".75"/>
<line x1="546.8" y1="342.5" x2="546.6" y2="355.0" stroke="#454b4e" stroke-width=".55" opacity=".75"/>
<line x1="548.2" y1="342.5" x2="548.3" y2="355.0" stroke="#454b4e" stroke-width=".55" opacity=".75"/>
<line x1="549.5" y1="342.5" x2="549.8" y2="354.8" stroke="#454b4e" stroke-width=".55" opacity=".75"/>
<line x1="550.7" y1="342.5" x2="551.3" y2="354.4" stroke="#454b4e" stroke-width=".55" opacity=".75"/>
<line x1="551.8" y1="342.5" x2="552.5" y2="353.6" stroke="#454b4e" stroke-width=".55" opacity=".75"/>
<ellipse cx="547.7" cy="340.2" rx="4.9" ry="2.9" fill="#e2182e"/>
<path d="M544.9,339.9 q2.4,-2.6 5.2,-1.2" fill="none" stroke="#fff" stroke-width=".8" opacity=".45"/>
<ellipse cx="507.1" cy="359.7" rx="6.2" ry="3.4" fill="#000" opacity=".35"/>
<path d="M501.8,347.3 L501.1,358.9 A5.2,2.7 0 0 0 511.5,358.9 L510.8,347.3 Z" fill="url(#mKnob)"/>
<line x1="502.8" y1="349.4" x2="502.2" y2="360.2" stroke="#454b4e" stroke-width=".55" opacity=".75"/>
<line x1="504.1" y1="349.4" x2="503.7" y2="360.9" stroke="#454b4e" stroke-width=".55" opacity=".75"/>
<line x1="505.4" y1="349.4" x2="505.3" y2="361.2" stroke="#454b4e" stroke-width=".55" opacity=".75"/>
<line x1="506.7" y1="349.4" x2="506.8" y2="361.2" stroke="#454b4e" stroke-width=".55" opacity=".75"/>
<line x1="508.0" y1="349.4" x2="508.3" y2="361.1" stroke="#454b4e" stroke-width=".55" opacity=".75"/>
<line x1="509.2" y1="349.4" x2="509.7" y2="360.6" stroke="#454b4e" stroke-width=".55" opacity=".75"/>
<line x1="510.1" y1="349.4" x2="510.8" y2="359.9" stroke="#454b4e" stroke-width=".55" opacity=".75"/>
<ellipse cx="506.3" cy="347.3" rx="4.7" ry="2.7" fill="#1d4f9e"/>
<path d="M503.6,347.0 q2.2,-2.4 4.9,-1.1" fill="none" stroke="#fff" stroke-width=".8" opacity=".45"/>
<ellipse cx="567.0" cy="361.0" rx="6.6" ry="3.6" fill="#000" opacity=".35"/>
<path d="M561.5,347.8 L560.6,360.2 A5.6,2.9 0 0 0 571.8,360.2 L570.9,347.8 Z" fill="url(#mKnob)"/>
<line x1="562.5" y1="350.1" x2="561.9" y2="361.6" stroke="#454b4e" stroke-width=".55" opacity=".75"/>
<line x1="563.8" y1="350.1" x2="563.4" y2="362.3" stroke="#454b4e" stroke-width=".55" opacity=".75"/>
<line x1="565.3" y1="350.1" x2="565.1" y2="362.6" stroke="#454b4e" stroke-width=".55" opacity=".75"/>
<line x1="566.7" y1="350.1" x2="566.8" y2="362.6" stroke="#454b4e" stroke-width=".55" opacity=".75"/>
<line x1="568.0" y1="350.1" x2="568.3" y2="362.4" stroke="#454b4e" stroke-width=".55" opacity=".75"/>
<line x1="569.2" y1="350.1" x2="569.8" y2="362.0" stroke="#454b4e" stroke-width=".55" opacity=".75"/>
<line x1="570.3" y1="350.1" x2="571.0" y2="361.2" stroke="#454b4e" stroke-width=".55" opacity=".75"/>
<ellipse cx="566.2" cy="347.8" rx="4.9" ry="2.9" fill="#e2182e"/>
<path d="M563.4,347.5 q2.4,-2.6 5.2,-1.2" fill="none" stroke="#fff" stroke-width=".8" opacity=".45"/>
<ellipse cx="537.2" cy="361.4" rx="6.6" ry="3.6" fill="#000" opacity=".35"/>
<path d="M531.7,348.2 L530.8,360.6 A5.6,2.9 0 0 0 542.0,360.6 L541.1,348.2 Z" fill="url(#mKnob)"/>
<line x1="532.7" y1="350.5" x2="532.1" y2="362.0" stroke="#454b4e" stroke-width=".55" opacity=".75"/>
<line x1="534.0" y1="350.5" x2="533.6" y2="362.7" stroke="#454b4e" stroke-width=".55" opacity=".75"/>
<line x1="535.5" y1="350.5" x2="535.3" y2="363.0" stroke="#454b4e" stroke-width=".55" opacity=".75"/>
<line x1="536.9" y1="350.5" x2="537.0" y2="363.0" stroke="#454b4e" stroke-width=".55" opacity=".75"/>
<line x1="538.2" y1="350.5" x2="538.5" y2="362.8" stroke="#454b4e" stroke-width=".55" opacity=".75"/>
<line x1="539.4" y1="350.5" x2="540.0" y2="362.4" stroke="#454b4e" stroke-width=".55" opacity=".75"/>
<line x1="540.5" y1="350.5" x2="541.2" y2="361.6" stroke="#454b4e" stroke-width=".55" opacity=".75"/>
<ellipse cx="536.4" cy="348.2" rx="4.9" ry="2.9" fill="#1c1c1c"/>
<ellipse cx="535.6" cy="347.6" rx="2.4" ry="1.3" fill="#3a3a3a"/>
<ellipse cx="473.6" cy="363.5" rx="6.6" ry="3.6" fill="#000" opacity=".35"/>
<path d="M468.1,350.3 L467.2,362.7 A5.6,2.9 0 0 0 478.4,362.7 L477.5,350.3 Z" fill="url(#mKnob)"/>
<line x1="469.1" y1="352.6" x2="468.5" y2="364.1" stroke="#454b4e" stroke-width=".55" opacity=".75"/>
<line x1="470.4" y1="352.6" x2="470.0" y2="364.8" stroke="#454b4e" stroke-width=".55" opacity=".75"/>
<line x1="471.9" y1="352.6" x2="471.7" y2="365.1" stroke="#454b4e" stroke-width=".55" opacity=".75"/>
<line x1="473.3" y1="352.6" x2="473.4" y2="365.1" stroke="#454b4e" stroke-width=".55" opacity=".75"/>
<line x1="474.6" y1="352.6" x2="474.9" y2="364.9" stroke="#454b4e" stroke-width=".55" opacity=".75"/>
<line x1="475.8" y1="352.6" x2="476.4" y2="364.5" stroke="#454b4e" stroke-width=".55" opacity=".75"/>
<line x1="476.9" y1="352.6" x2="477.6" y2="363.7" stroke="#454b4e" stroke-width=".55" opacity=".75"/>
<ellipse cx="472.8" cy="350.3" rx="4.9" ry="2.9" fill="#e2182e"/>
<path d="M470.0,350.0 q2.4,-2.6 5.2,-1.2" fill="none" stroke="#fff" stroke-width=".8" opacity=".45"/>
<ellipse cx="525.3" cy="370.0" rx="7.1" ry="3.9" fill="#000" opacity=".35"/>
<path d="M519.3,355.6 L518.4,369.2 A6.1,3.2 0 0 0 530.6,369.2 L529.7,355.6 Z" fill="url(#mKnob)"/>
<line x1="520.4" y1="358.1" x2="519.7" y2="370.7" stroke="#454b4e" stroke-width=".55" opacity=".75"/>
<line x1="521.9" y1="358.1" x2="521.4" y2="371.5" stroke="#454b4e" stroke-width=".55" opacity=".75"/>
<line x1="523.5" y1="358.1" x2="523.3" y2="371.9" stroke="#454b4e" stroke-width=".55" opacity=".75"/>
<line x1="525.0" y1="358.1" x2="525.1" y2="371.9" stroke="#454b4e" stroke-width=".55" opacity=".75"/>
<line x1="526.5" y1="358.1" x2="526.8" y2="371.7" stroke="#454b4e" stroke-width=".55" opacity=".75"/>
<line x1="527.8" y1="358.1" x2="528.4" y2="371.2" stroke="#454b4e" stroke-width=".55" opacity=".75"/>
<line x1="529.0" y1="358.1" x2="529.7" y2="370.4" stroke="#454b4e" stroke-width=".55" opacity=".75"/>
<ellipse cx="524.5" cy="355.6" rx="5.4" ry="3.2" fill="url(#mCapW)"/>
<ellipse cx="462.0" cy="370.5" rx="6.6" ry="3.6" fill="#000" opacity=".35"/>
<path d="M456.5,357.3 L455.6,369.7 A5.6,2.9 0 0 0 466.8,369.7 L465.9,357.3 Z" fill="url(#mKnob)"/>
<line x1="457.5" y1="359.6" x2="456.9" y2="371.1" stroke="#454b4e" stroke-width=".55" opacity=".75"/>
<line x1="458.8" y1="359.6" x2="458.4" y2="371.8" stroke="#454b4e" stroke-width=".55" opacity=".75"/>
<line x1="460.3" y1="359.6" x2="460.1" y2="372.1" stroke="#454b4e" stroke-width=".55" opacity=".75"/>
<line x1="461.7" y1="359.6" x2="461.8" y2="372.1" stroke="#454b4e" stroke-width=".55" opacity=".75"/>
<line x1="463.0" y1="359.6" x2="463.3" y2="371.9" stroke="#454b4e" stroke-width=".55" opacity=".75"/>
<line x1="464.2" y1="359.6" x2="464.8" y2="371.5" stroke="#454b4e" stroke-width=".55" opacity=".75"/>
<line x1="465.3" y1="359.6" x2="466.0" y2="370.7" stroke="#454b4e" stroke-width=".55" opacity=".75"/>
<ellipse cx="461.2" cy="357.3" rx="4.9" ry="2.9" fill="#1c1c1c"/>
<ellipse cx="460.4" cy="356.7" rx="2.4" ry="1.3" fill="#3a3a3a"/>
<ellipse cx="555.8" cy="370.7" rx="6.6" ry="3.6" fill="#000" opacity=".35"/>
<path d="M550.3,357.5 L549.4,369.9 A5.6,2.9 0 0 0 560.6,369.9 L559.7,357.5 Z" fill="url(#mKnob)"/>
<line x1="551.3" y1="359.8" x2="550.7" y2="371.3" stroke="#454b4e" stroke-width=".55" opacity=".75"/>
<line x1="552.6" y1="359.8" x2="552.2" y2="372.0" stroke="#454b4e" stroke-width=".55" opacity=".75"/>
<line x1="554.1" y1="359.8" x2="553.9" y2="372.3" stroke="#454b4e" stroke-width=".55" opacity=".75"/>
<line x1="555.5" y1="359.8" x2="555.6" y2="372.3" stroke="#454b4e" stroke-width=".55" opacity=".75"/>
<line x1="556.8" y1="359.8" x2="557.1" y2="372.1" stroke="#454b4e" stroke-width=".55" opacity=".75"/>
<line x1="558.0" y1="359.8" x2="558.6" y2="371.7" stroke="#454b4e" stroke-width=".55" opacity=".75"/>
<line x1="559.1" y1="359.8" x2="559.8" y2="370.9" stroke="#454b4e" stroke-width=".55" opacity=".75"/>
<ellipse cx="555.0" cy="357.5" rx="4.9" ry="2.9" fill="#1c1c1c"/>
<ellipse cx="554.2" cy="356.9" rx="2.4" ry="1.3" fill="#3a3a3a"/>
<ellipse cx="492.2" cy="371.3" rx="6.6" ry="3.6" fill="#000" opacity=".35"/>
<path d="M486.7,358.1 L485.8,370.5 A5.6,2.9 0 0 0 497.0,370.5 L496.1,358.1 Z" fill="url(#mKnob)"/>
<line x1="487.7" y1="360.4" x2="487.1" y2="371.9" stroke="#454b4e" stroke-width=".55" opacity=".75"/>
<line x1="489.0" y1="360.4" x2="488.6" y2="372.6" stroke="#454b4e" stroke-width=".55" opacity=".75"/>
<line x1="490.5" y1="360.4" x2="490.3" y2="372.9" stroke="#454b4e" stroke-width=".55" opacity=".75"/>
<line x1="491.9" y1="360.4" x2="492.0" y2="372.9" stroke="#454b4e" stroke-width=".55" opacity=".75"/>
<line x1="493.2" y1="360.4" x2="493.5" y2="372.7" stroke="#454b4e" stroke-width=".55" opacity=".75"/>
<line x1="494.4" y1="360.4" x2="495.0" y2="372.3" stroke="#454b4e" stroke-width=".55" opacity=".75"/>
<line x1="495.5" y1="360.4" x2="496.2" y2="371.5" stroke="#454b4e" stroke-width=".55" opacity=".75"/>
<ellipse cx="491.4" cy="358.1" rx="4.9" ry="2.9" fill="#e2182e"/>
<path d="M488.6,357.8 q2.4,-2.6 5.2,-1.2" fill="none" stroke="#fff" stroke-width=".8" opacity=".45"/>
<ellipse cx="544.4" cy="378.3" rx="7.1" ry="3.9" fill="#000" opacity=".35"/>
<path d="M538.4,363.9 L537.5,377.5 A6.1,3.2 0 0 0 549.7,377.5 L548.8,363.9 Z" fill="url(#mKnob)"/>
<line x1="539.5" y1="366.4" x2="538.8" y2="379.0" stroke="#454b4e" stroke-width=".55" opacity=".75"/>
<line x1="541.0" y1="366.4" x2="540.5" y2="379.8" stroke="#454b4e" stroke-width=".55" opacity=".75"/>
<line x1="542.6" y1="366.4" x2="542.4" y2="380.2" stroke="#454b4e" stroke-width=".55" opacity=".75"/>
<line x1="544.1" y1="366.4" x2="544.2" y2="380.2" stroke="#454b4e" stroke-width=".55" opacity=".75"/>
<line x1="545.6" y1="366.4" x2="545.9" y2="380.0" stroke="#454b4e" stroke-width=".55" opacity=".75"/>
<line x1="546.9" y1="366.4" x2="547.5" y2="379.5" stroke="#454b4e" stroke-width=".55" opacity=".75"/>
<line x1="548.1" y1="366.4" x2="548.8" y2="378.7" stroke="#454b4e" stroke-width=".55" opacity=".75"/>
<ellipse cx="543.6" cy="363.9" rx="5.4" ry="3.2" fill="url(#mCapW)"/>
<ellipse cx="449.1" cy="380.4" rx="7.3" ry="4.0" fill="#000" opacity=".35"/>
<path d="M442.9,365.6 L442.0,379.6 A6.3,3.3 0 0 0 454.6,379.6 L453.7,365.6 Z" fill="url(#mKnob)"/>
<line x1="444.1" y1="368.2" x2="443.4" y2="381.3" stroke="#454b4e" stroke-width=".55" opacity=".75"/>
<line x1="445.6" y1="368.2" x2="445.1" y2="382.1" stroke="#454b4e" stroke-width=".55" opacity=".75"/>
<line x1="447.2" y1="368.2" x2="447.0" y2="382.4" stroke="#454b4e" stroke-width=".55" opacity=".75"/>
<line x1="448.8" y1="368.2" x2="448.9" y2="382.5" stroke="#454b4e" stroke-width=".55" opacity=".75"/>
<line x1="450.3" y1="368.2" x2="450.7" y2="382.3" stroke="#454b4e" stroke-width=".55" opacity=".75"/>
<line x1="451.7" y1="368.2" x2="452.3" y2="381.8" stroke="#454b4e" stroke-width=".55" opacity=".75"/>
<line x1="452.9" y1="368.2" x2="453.7" y2="380.9" stroke="#454b4e" stroke-width=".55" opacity=".75"/>
<ellipse cx="448.3" cy="365.6" rx="5.6" ry="3.3" fill="url(#mCapW)"/>
<ellipse cx="510.4" cy="379.3" rx="6.6" ry="3.6" fill="#000" opacity=".35"/>
<path d="M504.9,366.1 L504.0,378.5 A5.6,2.9 0 0 0 515.2,378.5 L514.3,366.1 Z" fill="url(#mKnob)"/>
<line x1="505.9" y1="368.4" x2="505.3" y2="379.9" stroke="#454b4e" stroke-width=".55" opacity=".75"/>
<line x1="507.2" y1="368.4" x2="506.8" y2="380.6" stroke="#454b4e" stroke-width=".55" opacity=".75"/>
<line x1="508.7" y1="368.4" x2="508.5" y2="380.9" stroke="#454b4e" stroke-width=".55" opacity=".75"/>
<line x1="510.1" y1="368.4" x2="510.2" y2="380.9" stroke="#454b4e" stroke-width=".55" opacity=".75"/>
<line x1="511.4" y1="368.4" x2="511.7" y2="380.7" stroke="#454b4e" stroke-width=".55" opacity=".75"/>
<line x1="512.6" y1="368.4" x2="513.2" y2="380.3" stroke="#454b4e" stroke-width=".55" opacity=".75"/>
<line x1="513.7" y1="368.4" x2="514.4" y2="379.5" stroke="#454b4e" stroke-width=".55" opacity=".75"/>
<ellipse cx="509.6" cy="366.1" rx="4.9" ry="2.9" fill="#e2182e"/>
<path d="M506.8,365.8 q2.4,-2.6 5.2,-1.2" fill="none" stroke="#fff" stroke-width=".8" opacity=".45"/>
<ellipse cx="480.2" cy="380.4" rx="6.6" ry="3.6" fill="#000" opacity=".35"/>
<path d="M474.7,367.2 L473.8,379.6 A5.6,2.9 0 0 0 485.0,379.6 L484.1,367.2 Z" fill="url(#mKnob)"/>
<line x1="475.7" y1="369.5" x2="475.1" y2="381.0" stroke="#454b4e" stroke-width=".55" opacity=".75"/>
<line x1="477.0" y1="369.5" x2="476.6" y2="381.7" stroke="#454b4e" stroke-width=".55" opacity=".75"/>
<line x1="478.5" y1="369.5" x2="478.3" y2="382.0" stroke="#454b4e" stroke-width=".55" opacity=".75"/>
<line x1="479.9" y1="369.5" x2="480.0" y2="382.0" stroke="#454b4e" stroke-width=".55" opacity=".75"/>
<line x1="481.2" y1="369.5" x2="481.5" y2="381.8" stroke="#454b4e" stroke-width=".55" opacity=".75"/>
<line x1="482.4" y1="369.5" x2="483.0" y2="381.4" stroke="#454b4e" stroke-width=".55" opacity=".75"/>
<line x1="483.5" y1="369.5" x2="484.2" y2="380.6" stroke="#454b4e" stroke-width=".55" opacity=".75"/>
<ellipse cx="479.4" cy="367.2" rx="4.9" ry="2.9" fill="#1c1c1c"/>
<ellipse cx="478.6" cy="366.6" rx="2.4" ry="1.3" fill="#3a3a3a"/>
<ellipse cx="467.3" cy="388.7" rx="7.3" ry="4.0" fill="#000" opacity=".35"/>
<path d="M461.1,373.9 L460.2,387.9 A6.3,3.3 0 0 0 472.8,387.9 L471.9,373.9 Z" fill="url(#mKnob)"/>
<line x1="462.3" y1="376.5" x2="461.6" y2="389.6" stroke="#454b4e" stroke-width=".55" opacity=".75"/>
<line x1="463.8" y1="376.5" x2="463.3" y2="390.4" stroke="#454b4e" stroke-width=".55" opacity=".75"/>
<line x1="465.4" y1="376.5" x2="465.2" y2="390.7" stroke="#454b4e" stroke-width=".55" opacity=".75"/>
<line x1="467.0" y1="376.5" x2="467.1" y2="390.8" stroke="#454b4e" stroke-width=".55" opacity=".75"/>
<line x1="468.5" y1="376.5" x2="468.9" y2="390.6" stroke="#454b4e" stroke-width=".55" opacity=".75"/>
<line x1="469.9" y1="376.5" x2="470.5" y2="390.1" stroke="#454b4e" stroke-width=".55" opacity=".75"/>
<line x1="471.1" y1="376.5" x2="471.9" y2="389.2" stroke="#454b4e" stroke-width=".55" opacity=".75"/>
<ellipse cx="466.5" cy="373.9" rx="5.6" ry="3.3" fill="url(#mCapW)"/>
<ellipse cx="565.7" cy="387.5" rx="6.7" ry="3.7" fill="#000" opacity=".35"/>
<path d="M560.0,374.0 L559.2,386.7 A5.7,3.0 0 0 0 570.6,386.7 L569.8,374.0 Z" fill="url(#mKnob)"/>
<line x1="561.1" y1="376.3" x2="560.4" y2="388.2" stroke="#454b4e" stroke-width=".55" opacity=".75"/>
<line x1="562.5" y1="376.3" x2="562.0" y2="388.9" stroke="#454b4e" stroke-width=".55" opacity=".75"/>
<line x1="563.9" y1="376.3" x2="563.8" y2="389.2" stroke="#454b4e" stroke-width=".55" opacity=".75"/>
<line x1="565.4" y1="376.3" x2="565.5" y2="389.3" stroke="#454b4e" stroke-width=".55" opacity=".75"/>
<line x1="566.8" y1="376.3" x2="567.1" y2="389.1" stroke="#454b4e" stroke-width=".55" opacity=".75"/>
<line x1="568.0" y1="376.3" x2="568.6" y2="388.6" stroke="#454b4e" stroke-width=".55" opacity=".75"/>
<line x1="569.1" y1="376.3" x2="569.8" y2="387.8" stroke="#454b4e" stroke-width=".55" opacity=".75"/>
<ellipse cx="564.9" cy="374.0" rx="5.1" ry="3.0" fill="#e2182e"/>
<path d="M562.0,373.7 q2.4,-2.7 5.4,-1.2" fill="none" stroke="#fff" stroke-width=".8" opacity=".45"/>
<ellipse cx="498.5" cy="387.9" rx="6.6" ry="3.6" fill="#000" opacity=".35"/>
<path d="M493.0,374.7 L492.1,387.1 A5.6,2.9 0 0 0 503.3,387.1 L502.4,374.7 Z" fill="url(#mKnob)"/>
<line x1="494.0" y1="377.0" x2="493.4" y2="388.5" stroke="#454b4e" stroke-width=".55" opacity=".75"/>
<line x1="495.3" y1="377.0" x2="494.9" y2="389.2" stroke="#454b4e" stroke-width=".55" opacity=".75"/>
<line x1="496.8" y1="377.0" x2="496.6" y2="389.5" stroke="#454b4e" stroke-width=".55" opacity=".75"/>
<line x1="498.2" y1="377.0" x2="498.3" y2="389.5" stroke="#454b4e" stroke-width=".55" opacity=".75"/>
<line x1="499.5" y1="377.0" x2="499.8" y2="389.3" stroke="#454b4e" stroke-width=".55" opacity=".75"/>
<line x1="500.7" y1="377.0" x2="501.3" y2="388.9" stroke="#454b4e" stroke-width=".55" opacity=".75"/>
<line x1="501.8" y1="377.0" x2="502.5" y2="388.1" stroke="#454b4e" stroke-width=".55" opacity=".75"/>
<ellipse cx="497.7" cy="374.7" rx="4.9" ry="2.9" fill="#1c1c1c"/>
<ellipse cx="496.9" cy="374.1" rx="2.4" ry="1.3" fill="#3a3a3a"/>
<ellipse cx="529.1" cy="387.9" rx="6.6" ry="3.6" fill="#000" opacity=".35"/>
<path d="M523.6,374.7 L522.7,387.1 A5.6,2.9 0 0 0 533.9,387.1 L533.0,374.7 Z" fill="url(#mKnob)"/>
<line x1="524.6" y1="377.0" x2="524.0" y2="388.5" stroke="#454b4e" stroke-width=".55" opacity=".75"/>
<line x1="525.9" y1="377.0" x2="525.5" y2="389.2" stroke="#454b4e" stroke-width=".55" opacity=".75"/>
<line x1="527.4" y1="377.0" x2="527.2" y2="389.5" stroke="#454b4e" stroke-width=".55" opacity=".75"/>
<line x1="528.8" y1="377.0" x2="528.9" y2="389.5" stroke="#454b4e" stroke-width=".55" opacity=".75"/>
<line x1="530.1" y1="377.0" x2="530.4" y2="389.3" stroke="#454b4e" stroke-width=".55" opacity=".75"/>
<line x1="531.3" y1="377.0" x2="531.9" y2="388.9" stroke="#454b4e" stroke-width=".55" opacity=".75"/>
<line x1="532.4" y1="377.0" x2="533.1" y2="388.1" stroke="#454b4e" stroke-width=".55" opacity=".75"/>
<ellipse cx="528.3" cy="374.7" rx="4.9" ry="2.9" fill="#e2182e"/>
<path d="M525.5,374.4 q2.4,-2.6 5.2,-1.2" fill="none" stroke="#fff" stroke-width=".8" opacity=".45"/>
<ellipse cx="485.5" cy="397.8" rx="7.3" ry="4.0" fill="#000" opacity=".35"/>
<path d="M479.3,383.0 L478.4,397.0 A6.3,3.3 0 0 0 491.0,397.0 L490.1,383.0 Z" fill="url(#mKnob)"/>
<line x1="480.5" y1="385.6" x2="479.8" y2="398.7" stroke="#454b4e" stroke-width=".55" opacity=".75"/>
<line x1="482.0" y1="385.6" x2="481.5" y2="399.5" stroke="#454b4e" stroke-width=".55" opacity=".75"/>
<line x1="483.6" y1="385.6" x2="483.4" y2="399.8" stroke="#454b4e" stroke-width=".55" opacity=".75"/>
<line x1="485.2" y1="385.6" x2="485.3" y2="399.9" stroke="#454b4e" stroke-width=".55" opacity=".75"/>
<line x1="486.7" y1="385.6" x2="487.1" y2="399.7" stroke="#454b4e" stroke-width=".55" opacity=".75"/>
<line x1="488.1" y1="385.6" x2="488.7" y2="399.2" stroke="#454b4e" stroke-width=".55" opacity=".75"/>
<line x1="489.3" y1="385.6" x2="490.1" y2="398.3" stroke="#454b4e" stroke-width=".55" opacity=".75"/>
<ellipse cx="484.7" cy="383.0" rx="5.6" ry="3.3" fill="url(#mCapW)"/>
<ellipse cx="517.0" cy="397.0" rx="6.6" ry="3.6" fill="#000" opacity=".35"/>
<path d="M511.5,383.8 L510.6,396.2 A5.6,2.9 0 0 0 521.8,396.2 L520.9,383.8 Z" fill="url(#mKnob)"/>
<line x1="512.5" y1="386.1" x2="511.9" y2="397.6" stroke="#454b4e" stroke-width=".55" opacity=".75"/>
<line x1="513.8" y1="386.1" x2="513.4" y2="398.3" stroke="#454b4e" stroke-width=".55" opacity=".75"/>
<line x1="515.3" y1="386.1" x2="515.1" y2="398.6" stroke="#454b4e" stroke-width=".55" opacity=".75"/>
<line x1="516.7" y1="386.1" x2="516.8" y2="398.6" stroke="#454b4e" stroke-width=".55" opacity=".75"/>
<line x1="518.0" y1="386.1" x2="518.3" y2="398.4" stroke="#454b4e" stroke-width=".55" opacity=".75"/>
<line x1="519.2" y1="386.1" x2="519.8" y2="398.0" stroke="#454b4e" stroke-width=".55" opacity=".75"/>
<line x1="520.3" y1="386.1" x2="521.0" y2="397.2" stroke="#454b4e" stroke-width=".55" opacity=".75"/>
<ellipse cx="516.2" cy="383.8" rx="4.9" ry="2.9" fill="#1c1c1c"/>
<ellipse cx="515.4" cy="383.2" rx="2.4" ry="1.3" fill="#3a3a3a"/>
<ellipse cx="504.6" cy="406.1" rx="7.3" ry="4.0" fill="#000" opacity=".35"/>
<path d="M498.4,391.3 L497.5,405.3 A6.3,3.3 0 0 0 510.1,405.3 L509.2,391.3 Z" fill="url(#mKnob)"/>
<line x1="499.6" y1="393.9" x2="498.9" y2="407.0" stroke="#454b4e" stroke-width=".55" opacity=".75"/>
<line x1="501.1" y1="393.9" x2="500.6" y2="407.8" stroke="#454b4e" stroke-width=".55" opacity=".75"/>
<line x1="502.7" y1="393.9" x2="502.5" y2="408.1" stroke="#454b4e" stroke-width=".55" opacity=".75"/>
<line x1="504.3" y1="393.9" x2="504.4" y2="408.2" stroke="#454b4e" stroke-width=".55" opacity=".75"/>
<line x1="505.8" y1="393.9" x2="506.2" y2="408.0" stroke="#454b4e" stroke-width=".55" opacity=".75"/>
<line x1="507.2" y1="393.9" x2="507.8" y2="407.5" stroke="#454b4e" stroke-width=".55" opacity=".75"/>
<line x1="508.4" y1="393.9" x2="509.2" y2="406.6" stroke="#454b4e" stroke-width=".55" opacity=".75"/>
<ellipse cx="503.8" cy="391.3" rx="5.6" ry="3.3" fill="url(#mCapW)"/>
<ellipse cx="526.1" cy="416.0" rx="7.3" ry="4.0" fill="#000" opacity=".35"/>
<path d="M519.9,401.2 L519.0,415.2 A6.3,3.3 0 0 0 531.6,415.2 L530.7,401.2 Z" fill="url(#mKnob)"/>
<line x1="521.1" y1="403.8" x2="520.4" y2="416.9" stroke="#454b4e" stroke-width=".55" opacity=".75"/>
<line x1="522.6" y1="403.8" x2="522.1" y2="417.7" stroke="#454b4e" stroke-width=".55" opacity=".75"/>
<line x1="524.2" y1="403.8" x2="524.0" y2="418.0" stroke="#454b4e" stroke-width=".55" opacity=".75"/>
<line x1="525.8" y1="403.8" x2="525.9" y2="418.1" stroke="#454b4e" stroke-width=".55" opacity=".75"/>
<line x1="527.3" y1="403.8" x2="527.7" y2="417.9" stroke="#454b4e" stroke-width=".55" opacity=".75"/>
<line x1="528.7" y1="403.8" x2="529.3" y2="417.4" stroke="#454b4e" stroke-width=".55" opacity=".75"/>
<line x1="529.9" y1="403.8" x2="530.7" y2="416.5" stroke="#454b4e" stroke-width=".55" opacity=".75"/>
<ellipse cx="525.3" cy="401.2" rx="5.6" ry="3.3" fill="url(#mCapW)"/>
</g>
</svg>
</body></html>
